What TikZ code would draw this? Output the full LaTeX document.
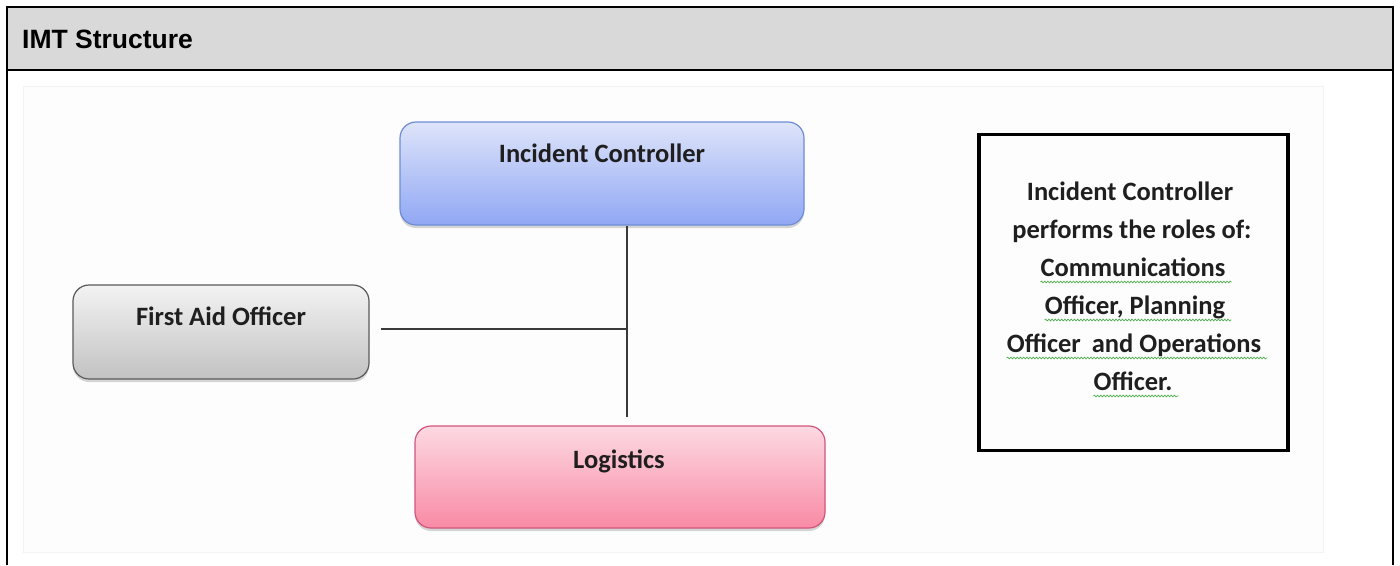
\documentclass[tikz,border=0pt]{standalone}
\usepackage{fontspec}
\setmainfont{Liberation Sans}
\newfontfamily\calib{Carlito}
\usetikzlibrary{shadows,decorations.pathmorphing}

\definecolor{headgray}{HTML}{D9D9D9}
\definecolor{areafill}{HTML}{FDFDFD}
\definecolor{areaedge}{HTML}{F3F3F3}
\definecolor{icTop}{HTML}{DEE4FA}
\definecolor{icBot}{HTML}{90A7F4}
\definecolor{icLine}{HTML}{6E8ED4}
\definecolor{faTop}{HTML}{F3F3F3}
\definecolor{faBot}{HTML}{C2C2C2}
\definecolor{faLine}{HTML}{5A5A5A}
\definecolor{lgTop}{HTML}{FCD9E2}
\definecolor{lgBot}{HTML}{F98AA5}
\definecolor{lgLine}{HTML}{D2557B}
\definecolor{linkgray}{HTML}{3A3A3A}
\definecolor{spellgreen}{HTML}{4FAF4F}

\tikzset{
  rolebox/.style={draw, rounded corners=16pt, line width=1.2pt, inner sep=0pt,
    drop shadow={opacity=0.32, shadow xshift=0pt, shadow yshift=-3pt}},
  boxlabel/.style={font=\calib\fontsize{26.5}{30}\selectfont\bfseries,
    text=black!88, inner sep=0pt},
  noteline/.style={font=\calib\fontsize{26.5}{30}\selectfont\bfseries,
    text=black!88, inner sep=0pt, anchor=base},
  link/.style={draw=linkgray, line width=1.6pt},
  spell/.style={draw=spellgreen, line width=0.7pt,
    decorate, decoration={snake, amplitude=0.9pt, segment length=3.2pt}},
  frameline/.style={line width=2.6pt, draw=black}
}

\begin{document}
\begin{tikzpicture}[x=1pt, y=-1pt]
  \useasboundingbox (0,0) rectangle (1400,565);
  \fill[white] (0,0) rectangle (1400,565);

  % table frame with grey header row
  \fill[headgray] (7,7) rectangle (1393,70);
  \node[anchor=base west, font=\fontsize{26.5}{30}\selectfont\bfseries, inner sep=0pt]
    (title) at (22,48) {IMT Structure};
  \draw[frameline] (7,565) -- (7,7) -- (1393,7) -- (1393,565);
  \draw[frameline] (7,70) -- (1393,70);

  % embedded chart area
  \filldraw[fill=areafill, draw=areaedge, line width=0.8pt] (23,86) rectangle (1323,552);

  % role boxes
  \node[rolebox, draw=icLine, top color=icTop, bottom color=icBot,
        minimum width=404pt, minimum height=103pt] (ic) at (602,173.5) {};
  \node[rolebox, draw=faLine, top color=faTop, bottom color=faBot,
        minimum width=296pt, minimum height=94pt] (fa) at (221,332) {};
  \node[rolebox, draw=lgLine, top color=lgTop, bottom color=lgBot,
        minimum width=410pt, minimum height=102pt] (lg) at (620,477) {};

  \node[boxlabel, anchor=base] (icl) at (602,162) {Incident Controller};
  \node[boxlabel, anchor=base] (fal) at (221,325) {First Aid Officer};
  \node[boxlabel, anchor=base] (lgl) at (619,468) {Logistics};

  % reporting lines
  \coordinate (junc) at (627,329);
  \coordinate (vend) at (627,417);
  \coordinate (hstart) at (381,329);
  \draw[link] (ic.south -| junc) -- (vend);
  \draw[link] (hstart) -- (junc);

  % note box
  \node[draw, line width=3.8pt, minimum width=309pt, minimum height=316pt,
        inner sep=0pt] (note) at (1133.5,292.5) {};
  \node[noteline] (n1) at (1130,200) {Incident Controller};
  \node[noteline] (n2) at (1132,238) {performs the roles of:};
  \node[noteline] (n3) at (1133,276) {Communications};
  \node[noteline] (n4) at (1135,314) {Officer, Planning};
  \node[noteline] (n5) at (1134,352) {Officer\hspace{5pt} and Operations};
  \node[noteline] (n6) at (1133,390) {Officer.};

  % proofing underlines
  \foreach \n in {n3,n4,n5,n6}{
    \draw[spell] ([yshift=-6pt]\n.base west) -- ([xshift=6pt,yshift=-6pt]\n.base east);
  }
\end{tikzpicture}
\end{document}
